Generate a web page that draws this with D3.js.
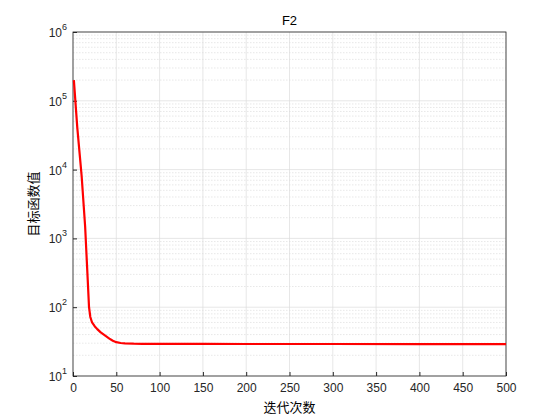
<!DOCTYPE html>
<html><head><meta charset="utf-8">
<script src="https://cdn.jsdelivr.net/npm/d3@7"></script>
<style>body{margin:0;background:#fff}</style></head>
<body><svg id="c" width="560" height="420"></svg>
<script>
const title = "F2";
const xLabel = "迭代次数";
const yLabel = "目标函数值";
const xTicks = [0,50,100,150,200,250,300,350,400,450,500];
const yTicks = [1e1,1e2,1e3,1e4,1e5,1e6];
const iters = [1,5,10,14,17,18.5,20,22,25,28,32,38,42,46,50,55,60,70,80,100,150,200,300,400,500];
const values = [2e5,4e4,8e3,1500,250,100,72,60,53,48,43,38,35,32.5,31,30.2,29.8,29.5,29.4,29.3,29.3,29.2,29.2,29.1,29.1];

const svg = d3.select("#c");
const L=73,R=506,T=32,B=376;
const x = d3.scaleLinear().domain([0,500]).range([L,R]);
const y = d3.scaleLog().domain([10,1e6]).range([B,T]);
const g = svg.append("g");
for (let e=1;e<6;e++) for (let m=2;m<10;m++){
  const v=m*Math.pow(10,e);
  g.append("line").attr("x1",L).attr("x2",R).attr("y1",y(v)).attr("y2",y(v))
   .attr("stroke","#d8d8d8").attr("stroke-width",0.6).attr("stroke-dasharray","1.5,1.5");
}
xTicks.forEach(t=>g.append("line").attr("x1",x(t)).attr("x2",x(t)).attr("y1",T).attr("y2",B).attr("stroke","#dcdcdc").attr("stroke-width",0.7));
yTicks.forEach(t=>g.append("line").attr("x1",L).attr("x2",R).attr("y1",y(t)).attr("y2",y(t)).attr("stroke","#dcdcdc").attr("stroke-width",0.7));
svg.append("rect").attr("x",L).attr("y",T).attr("width",R-L).attr("height",B-T).attr("fill","none").attr("stroke","#262626").attr("stroke-width",0.8);
const xa = svg.append("g").attr("transform",`translate(0,${B})`).call(d3.axisBottom(x).tickValues(xTicks).tickSize(-4).tickSizeOuter(0));
xa.select(".domain").remove();
xa.selectAll("text").attr("font-family","Arial, Liberation Sans").attr("font-size",12).attr("fill","#262626").attr("dy","1.1em");
xa.selectAll("line").attr("stroke","#262626");
const ya = svg.append("g").attr("transform",`translate(${L},0)`).call(d3.axisLeft(y).tickValues(yTicks).tickSize(-4).tickFormat(()=>""));
ya.select(".domain").remove();
ya.selectAll("line").attr("stroke","#262626");
yTicks.forEach(t=>{
  const tx=svg.append("text").attr("x",L-6).attr("y",y(t)+5).attr("text-anchor","end").attr("font-family","Arial, Liberation Sans").attr("font-size",12).attr("fill","#262626");
  tx.append("tspan").text("10");
  tx.append("tspan").attr("dy",-7).attr("font-size",9).text(Math.round(Math.log10(t)));
});
svg.append("path").datum(iters.map((d,i)=>[d,values[i]]))
  .attr("d",d3.line().x(d=>x(d[0])).y(d=>y(d[1])))
  .attr("fill","none").attr("stroke","#ff0000").attr("stroke-width",2.2).attr("stroke-linejoin","round");
svg.append("text").attr("x",(L+R)/2).attr("y",T-7).attr("text-anchor","middle").attr("font-family","Arial, Liberation Sans").attr("font-size",13).attr("fill","#000").text(title);
svg.append("text").attr("x",(L+R)/2).attr("y",412).attr("text-anchor","middle").attr("font-family","Noto Sans CJK SC").attr("font-size",13).text(xLabel);
svg.append("text").attr("transform",`translate(38,${(T+B)/2}) rotate(-90)`).attr("text-anchor","middle").attr("font-family","Noto Sans CJK SC").attr("font-size",13).text(yLabel);
</script></body></html>
